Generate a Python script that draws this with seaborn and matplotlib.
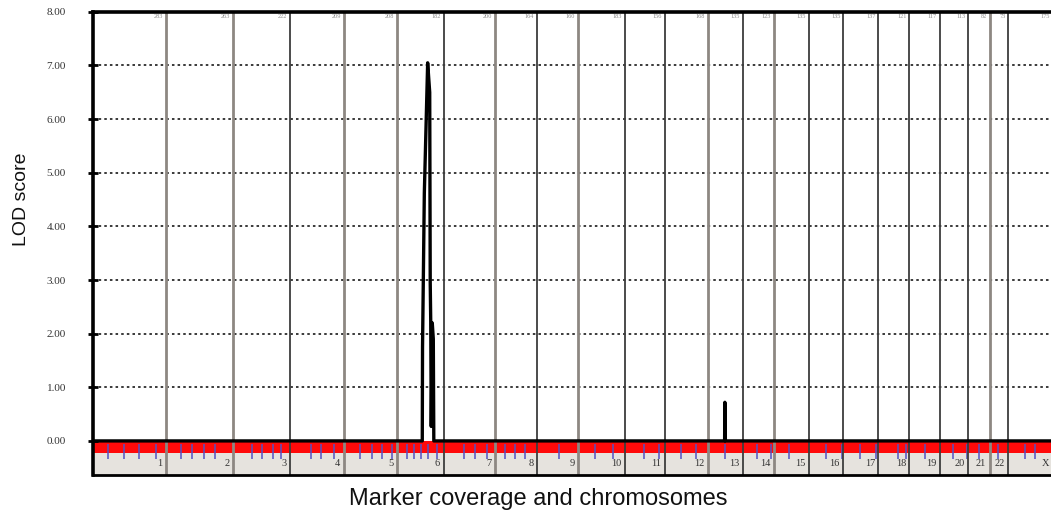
import matplotlib
matplotlib.use("Agg")
import matplotlib.pyplot as plt
import seaborn as sns
import pandas as pd
import numpy as np

# chromosome map (cM), labels shown along the bottom strip
chromosomes = [str(i) for i in range(1, 23)] + ["X"]
chrom_lengths = [283, 263, 222, 209, 208, 182, 200, 164, 160, 183, 156, 168,
                 135, 123, 135, 135, 137, 121, 117, 113, 82, 73, 175]

# LOD peaks (position within chromosome in cM, LOD score)
chr6_pos = [99, 100, 107, 120, 128, 130, 132, 134, 138, 142, 144]
chr6_lod = [0.0, 1.75, 4.62, 7.05, 6.5, 2.95, 2.22, 0.27, 2.2, 1.9, 0.0]
chr13_pos = [65, 66, 67, 68]
chr13_lod = [0.0, 0.72, 0.33, 0.0]

# marker positions, genome-wide cM
marker_pos = [58, 121, 179, 246, 343, 386, 433, 476, 620, 659, 702, 733,
              850, 889, 940, 1041, 1088, 1127, 1166, 1225, 1252, 1279, 1307,
              1342, 1447, 1490, 1537, 1607, 1646, 1685, 1817, 1958, 2028,
              2149, 2208, 2293, 2352, 2465, 2590, 2644, 2714, 2859, 2921,
              2991, 3054, 3140, 3171, 3245, 3354, 3409, 3455, 3530, 3635, 3674]

y_ticks = [0, 1, 2, 3, 4, 5, 6, 7, 8]

RED = "#ff0a0a"
STRIP = "#e6e3de"
BLUE = "#5252c4"
SERIF = "Liberation Serif"

starts = np.concatenate([[0], np.cumsum(chrom_lengths)[:-1]])
ends = np.cumsum(chrom_lengths)
total = ends[-1]

i6 = chromosomes.index("6")
i13 = chromosomes.index("13")
pos = [0] + [starts[i6] + p for p in chr6_pos] + [starts[i13] + p for p in chr13_pos] + [total]
lod = [0] + chr6_lod + chr13_lod + [0]
df = pd.DataFrame({"pos": pos, "lod": lod})

sns.set_theme(style="white")
plt.rcParams["font.family"] = ["Liberation Sans", "DejaVu Sans"]

fig = plt.figure(figsize=(10.51, 5.16), dpi=100)
ax = fig.add_axes([0.0885, 0.0795, 1.002 - 0.0885, 0.977 - 0.0795])

ymin = -0.635
ax.set_xlim(0, total)
ax.set_ylim(ymin, 8)

# bottom strip and red marker band
ax.axhspan(ymin, -0.22, color=STRIP, zorder=0.2, lw=0)
ax.axhspan(-0.22, 0, color=RED, zorder=0.3, lw=0)
ax.vlines(marker_pos, -0.34, -0.05, color=BLUE, lw=1.1, zorder=0.4)

# dotted grid
for y in y_ticks[1:-1]:
    ax.axhline(y, color="#3a3a3a", lw=1.4, ls=(0, (1.3, 1.6)), zorder=0.5)

# chromosome boundaries
light = {"1", "2", "4", "5", "7", "9", "12", "14", "21"}
for name, e in zip(chromosomes[:-1], ends[:-1]):
    if name in light:
        ax.axvline(e, color="#8d8782", lw=2.0, zorder=0.6)
    else:
        ax.axvline(e, color="#3d3d3d", lw=1.3, zorder=0.6)

sns.lineplot(data=df, x="pos", y="lod", sort=False, estimator=None,
             color="black", lw=2.4, ax=ax, zorder=3)

# chromosome labels and lengths
for name, e, L in zip(chromosomes, ends, chrom_lengths):
    ax.annotate(name, (e, -0.43), xytext=(-2.5, 0), textcoords="offset points",
                ha="right", va="center", fontsize=7.5, color="#333333",
                family=SERIF, zorder=4)
    ax.annotate(str(L), (e, 7.96), xytext=(-2, 0), textcoords="offset points",
                ha="right", va="top", fontsize=4.5, color="#8a8a8a",
                family=SERIF, zorder=4)

ax.set_yticks(y_ticks)
ax.set_yticklabels([f"{v:.2f}" for v in y_ticks], family=SERIF,
                   fontsize=8, color="#333333")
ax.set_xticks([])
ax.tick_params(axis="y", direction="inout", length=7, width=2,
               color="black", pad=16, left=True)

for s in ["left", "top"]:
    ax.spines[s].set_linewidth(2.6)
    ax.spines[s].set_color("black")
ax.spines["bottom"].set_linewidth(2.0)
ax.spines["bottom"].set_color("black")
ax.spines["right"].set_visible(False)
for s in ax.spines.values():
    s.set_zorder(5)

ax.set_xlabel("Marker coverage and chromosomes", fontsize=17, color="#111111")
ax.set_ylabel("LOD score", fontsize=14, color="#111111")
ax.xaxis.set_label_coords(0.4635, -0.028)
ax.yaxis.set_label_coords(-0.066, 0.595)

fig.savefig("out.png", dpi=100)
